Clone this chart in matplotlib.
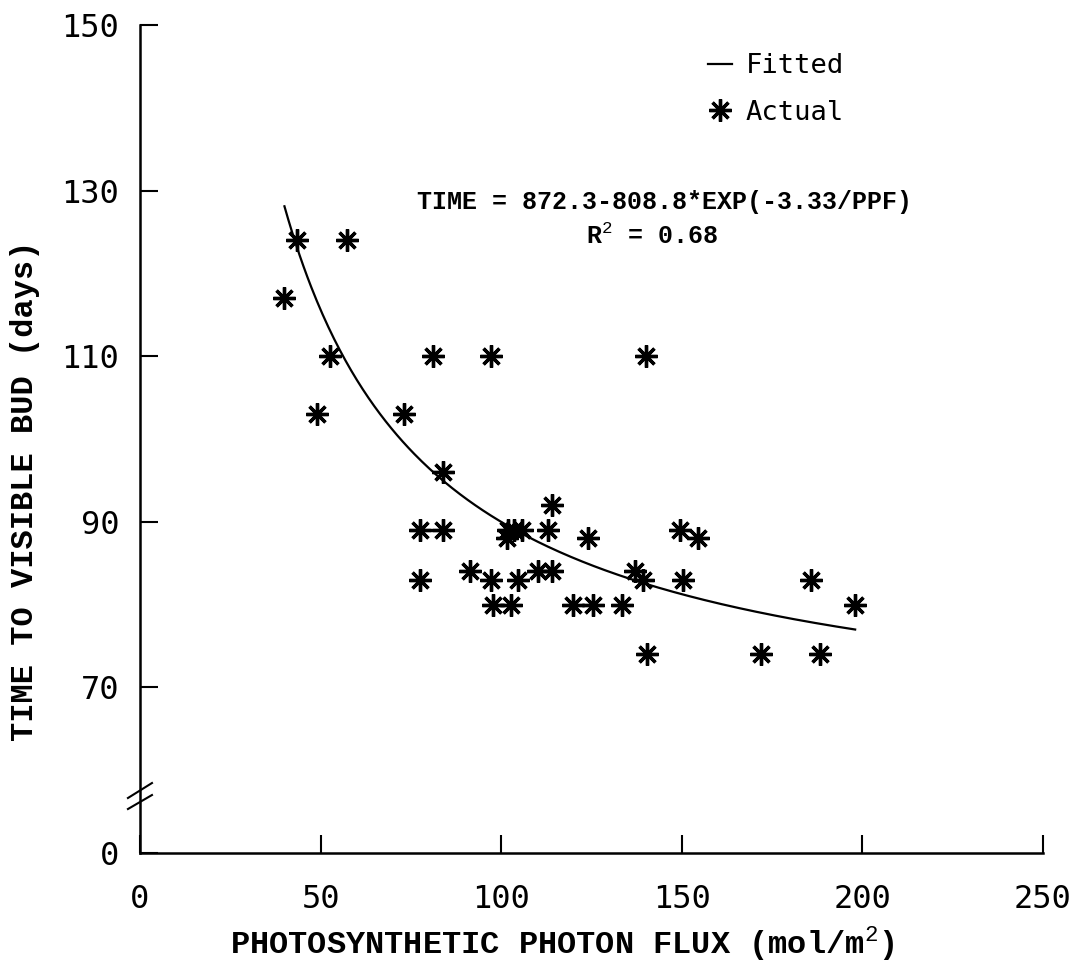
#!/usr/bin/env python3
# Time to visible bud vs photosynthetic photon flux, with fitted curve
import numpy as np
import matplotlib
matplotlib.use('Agg')
import matplotlib.pyplot as plt

# Observed points (PPF, days)
ppf = [40.0, 43.5, 57.3, 49.0, 52.6, 73.1, 81.1, 97.2, 140.1, 83.9,
       114.1, 77.5, 83.9, 101.9, 101.6, 103.5, 105.8, 113.0, 124.0, 149.5,
       154.5, 77.5, 91.4, 97.2, 104.7, 110.2, 114.1, 137.0, 139.3, 150.3,
       97.7, 102.7, 119.9, 125.4, 133.4, 140.4, 171.9, 188.3, 185.8, 198.0]
days = [117.0, 124.0, 124.0, 103.0, 110.0, 103.0, 110.0, 110.0, 110.0, 96.0,
        92.0, 89.0, 89.0, 89.0, 88.0, 89.0, 89.0, 89.0, 88.0, 89.0,
        88.0, 83.0, 84.0, 83.0, 83.0, 84.0, 84.0, 84.0, 83.0, 83.0,
        80.0, 80.0, 80.0, 80.0, 80.0, 74.0, 74.0, 74.0, 83.0, 80.0]

# Fitted equation as printed on the chart
fit_a = 872.3
fit_b = 808.8
fit_c = 3.33
fit_range = (40.0, 198.0)

x_ticks = [0, 50, 100, 150, 200, 250]
y_ticks = [50, 70, 90, 110, 130, 150]
y_ticklabels = ['0', '70', '90', '110', '130', '150']

plt.rcParams['mathtext.fontset'] = 'custom'
plt.rcParams['mathtext.rm'] = 'Liberation Mono'
plt.rcParams['mathtext.bf'] = 'Liberation Mono:bold'

mono_sans = 'DejaVu Sans Mono'
courier = 'Liberation Mono'

fig = plt.figure(figsize=(10.75, 9.66), dpi=100)
ax = fig.add_axes([0.1302, 0.1170, 0.8400, 0.8571])

star = (8, 2, 0)
xf = np.linspace(fit_range[0], fit_range[1], 300)
yf = fit_a - fit_b * np.exp(-fit_c / xf)
ax.plot(xf, yf, color='black', lw=1.6, label='Fitted')
ax.plot(ppf, days, linestyle='none', marker=star, markersize=16,
        markeredgewidth=2.4, color='black', label='Actual')

ax.set_xlim(0, 250)
ax.set_ylim(50, 150)
ax.set_xticks(x_ticks)
ax.set_yticks(y_ticks)
ax.set_yticklabels(y_ticklabels)

for side in ['top', 'right']:
    ax.spines[side].set_visible(False)
for side in ['left', 'bottom']:
    ax.spines[side].set_linewidth(1.8)

ax.tick_params(axis='both', direction='in', length=13, width=1.5,
               labelsize=23)
ax.tick_params(axis='y', pad=15)
ax.tick_params(axis='x', pad=22)
for lbl in ax.get_xticklabels() + ax.get_yticklabels():
    lbl.set_family(mono_sans)

# axis break marks on y
for y0, y1 in [(0.0531, 0.0700), (0.0664, 0.0845)]:
    ax.plot([-0.0133, 0.0133], [y0, y1], color='black', lw=1.5,
            transform=ax.transAxes, clip_on=False)

ax.set_xlabel(r'PHOTOSYNTHETIC PHOTON FLUX (mol/m$^2$)', family=courier,
              weight='bold', fontsize=23, va='center')
ax.xaxis.set_label_coords(0.468, -0.109)
ax.set_ylabel('TIME TO VISIBLE BUD (days)', family=courier,
              weight='bold', fontsize=23, va='center')
ax.yaxis.set_label_coords(-0.127, 0.438)

ax.text(0.581, 0.786, 'TIME = 872.3-808.8*EXP(-3.33/PPF)',
        transform=ax.transAxes, family=courier, weight='bold',
        fontsize=18, ha='center', va='center')
ax.text(0.567, 0.745, r'R$^2$ = 0.68', transform=ax.transAxes,
        family=courier, weight='bold', fontsize=18, ha='center',
        va='center')

leg = ax.legend(loc='upper left', bbox_to_anchor=(0.614, 0.982),
                frameon=False, borderpad=0, handlelength=0.9,
                handletextpad=0.5, labelspacing=0.75,
                prop={'family': mono_sans, 'size': 19.5})

fig.savefig('out.png', dpi=100)
